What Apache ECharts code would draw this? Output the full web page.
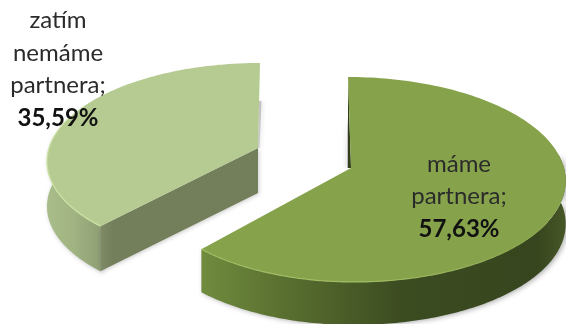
<!DOCTYPE html>
<html>
<head>
<meta charset="utf-8">
<style>html,body{margin:0;padding:0;background:#fff}#chart{width:566px;height:324px}</style>
<script src="https://cdn.jsdelivr.net/npm/echarts@6/dist/echarts.min.js"></script>
</head>
<body>
<div id="chart"></div>
<script>
// Shares of respondents, in percent; the slices divide the full turn between them.
const categories = ['máme\npartnera;', 'zatím\nnemáme\npartnera;'];
const shares = [57.63, 35.59];

// Projection and look of each tilted, pulled-out slice.
const sliceLooks = [
  { ax: 351, ay: 168, rxL: 206, rxR: 213, ry: 101.2, p: 0.112, shear: 3, depth: 43,
    top: '#86a34c', rim: '#a0bc62',
    wall: [[0, '#708c3e'], [0.22, '#5a7030'], [0.55, '#3c4c21'], [0.92, '#37451e'], [1, '#465727']],
    cut: '#333f1c', labelX: 459, labelY: 196.5 },
  { ax: 258, ay: 148, rxL: 209, rxR: 209, ry: 96, p: 0.129, shear: -2, depth: 45,
    top: '#b5cb92', rim: '#cde3a6',
    wall: [[0, '#a9bd8a'], [0.5, '#a0b381'], [1, '#8f9f74']],
    cut: '#737f5a', labelX: 58, labelY: 69.5 }
];

const total = shares.reduce((a, b) => a + b, 0);

function project(look, deg) {
  const t = deg * Math.PI / 180;
  const u = Math.sin(t), v = -Math.cos(t);
  const k = 1 / (1 - look.p * v);
  const rx = u < 0 ? look.rxL : look.rxR;
  return [look.ax + rx * u * k + look.shear * v, look.ay + look.ry * v * k];
}

function arcPoints(look, from, to) {
  const pts = [];
  const n = 160;
  for (let i = 0; i <= n; i++) pts.push(project(look, from + (to - from) * i / n));
  return pts;
}

function percentText(v) {
  return v.toFixed(2).replace('.', ',') + '%';
}

function renderSlice(params, api) {
  const i = params.dataIndex;
  const look = sliceLooks[i];
  const value = api.value(0);
  let start = 0;
  for (let k = 0; k < i; k++) start += shares[k] / total * 360;
  const end = start + value / total * 360;
  const apex = [look.ax, look.ay];
  const d = look.depth;
  const down = p => [p[0], p[1] + d];
  const arc = arcPoints(look, start, end);
  const children = [];

  // Outer rim wall: only the part facing the viewer shows.
  const front = arcPoints(look, Math.max(start, 82), Math.min(end, 278));
  const xs = front.map(p => p[0]);
  children.push({
    type: 'polygon', silent: true,
    shape: { points: front.concat(front.slice().reverse().map(down)) },
    style: {
      fill: { type: 'linear', x: Math.min.apply(null, xs), y: 0, x2: Math.max.apply(null, xs), y2: 0, global: true,
        colorStops: look.wall.map(s => ({ offset: s[0], color: s[1] })) },
      shadowBlur: 5, shadowColor: 'rgba(0,0,0,0.3)', shadowOffsetX: 2, shadowOffsetY: 1
    }
  });

  if (i === 0) {
    // Thin far wall along the vertical cut, with its soft shadow.
    const far = arc[0];
    children.push({
      type: 'polygon', silent: true,
      shape: { points: [[far[0] - 1, far[1] + 40], [far[0] - 1, apex[1]], apex] },
      style: { fill: 'rgba(130,130,130,0.45)', shadowBlur: 4, shadowColor: 'rgba(100,100,100,0.5)', shadowOffsetX: -1 }
    });
    children.push({
      type: 'polygon', silent: true,
      shape: { points: [far, [far[0], apex[1]], apex] },
      style: { fill: look.cut }
    });
  } else {
    // Soft shadow behind the vertical far edge, then the broad cut wall.
    const far = arc[arc.length - 1];
    children.push({
      type: 'polygon', silent: true,
      shape: { points: [[far[0] - 1, far[1] + 38], [far[0] + 1.5, far[1] + 38], [apex[0] + 1.5, apex[1]], apex] },
      style: { fill: 'rgba(140,140,140,0.45)', shadowBlur: 4, shadowColor: 'rgba(110,110,110,0.55)', shadowOffsetX: 1 }
    });
    const corner = arc[0];
    children.push({
      type: 'polygon', silent: true,
      shape: { points: [apex, corner, down(corner), down(apex)] },
      style: {
        fill: { type: 'linear', x: corner[0], y: 0, x2: apex[0], y2: 0, global: true,
          colorStops: [{ offset: 0, color: '#7f8b66' }, { offset: 0.08, color: look.cut }, { offset: 1, color: look.cut }] },
        shadowBlur: 4, shadowColor: 'rgba(0,0,0,0.2)', shadowOffsetX: 1, shadowOffsetY: 1
      }
    });
  }

  // Top face.
  children.push({
    type: 'polygon', silent: true,
    shape: { points: [apex].concat(arc) },
    style: { fill: look.top }
  });

  // Bevel highlight along the front edge of the top face.
  const rimPts = arcPoints(look, i === 0 ? Math.max(start, 120) : start, i === 0 ? end : Math.min(end, 290));
  const rimXs = rimPts.map(p => p[0]);
  children.push({
    type: 'polyline', silent: true,
    shape: { points: rimPts },
    style: {
      fill: 'none', lineWidth: 1.2,
      stroke: { type: 'linear', x: Math.min.apply(null, rimXs), y: 0, x2: Math.max.apply(null, rimXs), y2: 0, global: true,
        colorStops: i === 0
          ? [{ offset: 0, color: look.rim }, { offset: 0.5, color: look.rim }, { offset: 1, color: look.top }]
          : [{ offset: 0, color: look.rim }, { offset: 1, color: look.rim }] }
    }
  });

  // Category name and value.
  const nameLines = api.value(1).split('\n').map(s => '{n|' + s + '}');
  children.push({
    type: 'text', silent: true, z2: 10,
    x: look.labelX, y: look.labelY,
    style: {
      text: nameLines.join('\n') + '\n{b|' + percentText(value) + '}',
      align: 'center', verticalAlign: 'middle',
      rich: {
        n: { fontFamily: 'Lato', fontSize: 24, lineHeight: 32.5, fill: '#2b2b2b', align: 'center' },
        b: { fontFamily: 'Lato', fontSize: 24, fontWeight: 'bold', lineHeight: 32.5, fill: '#111111', align: 'center' }
      }
    }
  });

  return { type: 'group', children };
}

const chart = echarts.init(document.getElementById('chart'), null, { renderer: 'canvas' });
chart.setOption({
  animation: false,
  backgroundColor: '#ffffff',
  series: [{
    type: 'custom',
    coordinateSystem: 'none',
    renderItem: renderSlice,
    dimensions: ['share', 'label'],
    data: shares.map((s, i) => [s, categories[i]])
  }]
});
</script>
</body>
</html>
